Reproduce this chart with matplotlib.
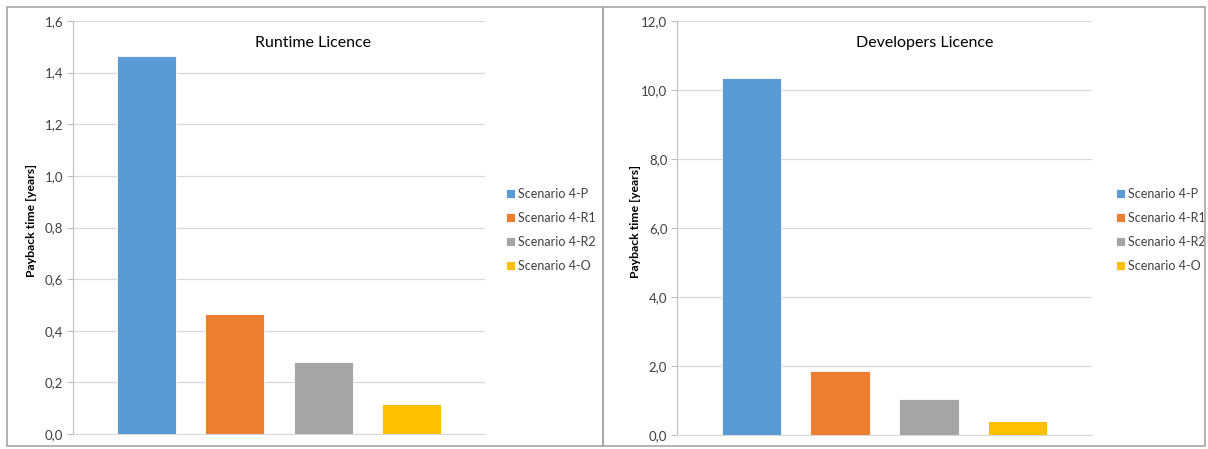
import matplotlib.pyplot as plt
from matplotlib.patches import Rectangle
from matplotlib.ticker import FuncFormatter, MultipleLocator

plt.rcParams['font.family'] = ['Lato', 'DejaVu Sans']

scenarios = ['Scenario 4-P', 'Scenario 4-R1', 'Scenario 4-R2', 'Scenario 4-O']
colors = ['#5B9BD5', '#ED7D31', '#A5A5A5', '#FFC000']
runtime = [1.465, 0.463, 0.28, 0.117]
developers = [10.35, 1.846, 1.04, 0.41]

W, H = 1208, 449
fig = plt.figure(figsize=(W / 100, H / 100), dpi=100)

# panel frames
for x0, x1 in [(7, 603), (603, 1205)]:
    fig.patches.append(Rectangle((x0 / W, 1 - 446 / H), (x1 - x0) / W, 439 / H,
                                 transform=fig.transFigure, fill=False,
                                 edgecolor='#a6a6a6', linewidth=1.2))

comma = FuncFormatter(lambda v, p: f"{v:.1f}".replace('.', ','))


def panel(rect, vals, ymax, step, title, title_x, leg_x):
    ax = fig.add_axes(rect)
    pos = range(len(vals))
    for i in pos:
        ax.bar(i, vals[i], width=0.67, color=colors[i], edgecolor='white',
               linewidth=0.6, label=scenarios[i], zorder=3)
    ax.set_xlim(-0.84, 3.84)
    ax.set_ylim(0, ymax)
    ax.yaxis.set_major_locator(MultipleLocator(step))
    ax.yaxis.set_major_formatter(comma)
    ax.grid(axis='y', color='#d9d9d9', linewidth=0.9, zorder=0)
    for s in ['top', 'right']:
        ax.spines[s].set_visible(False)
    ax.spines['left'].set_color('#bfbfbf')
    ax.spines['bottom'].set_color('#d9d9d9')
    ax.set_xticks([])
    ax.tick_params(axis='y', length=4, color='#bfbfbf', labelsize=9.5,
                   labelcolor='#404040', pad=3)
    ax.set_ylabel('Payback time [years]', fontsize=8.8, fontweight='bold')
    ax.yaxis.set_label_coords(-36 / 412, 0.516)
    fig.text(title_x / W, 1 - 43 / H, title, fontsize=11.5, ha='center',
             va='center', color='#000000')
    ax.legend(loc='upper left', bbox_to_anchor=(leg_x / W, 1 - 188 / H),
              bbox_transform=fig.transFigure, frameon=False, fontsize=9,
              handlelength=0.75, handleheight=0.75, handletextpad=0.25,
              labelspacing=0.95, borderaxespad=0, borderpad=0, labelcolor='#404040')
    return ax


panel([73 / W, 1 - 434 / H, 412 / W, 413 / H], runtime, 1.6, 0.2,
      'Runtime Licence', 313, 506)
panel([677 / W, 1 - 435 / H, 415 / W, 414 / H], developers, 12.0, 2.0,
      'Developers Licence', 925, 1116)

fig.savefig('out.png', dpi=100)
